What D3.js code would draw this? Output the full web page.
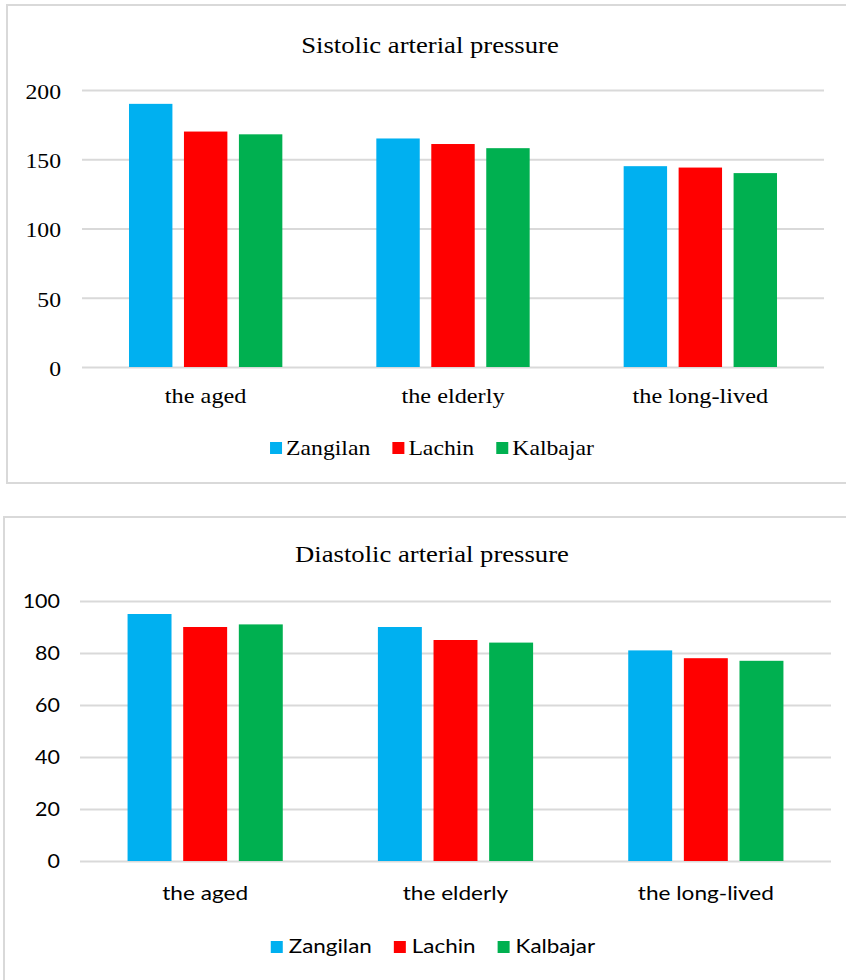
<!DOCTYPE html>
<html>
<head>
<meta charset="utf-8">
<script src="https://cdn.jsdelivr.net/npm/d3@7"></script>
<style>
  html, body { margin: 0; padding: 0; background: #fff; }
  svg { display: block; }
</style>
</head>
<body>
<svg id="chart" width="846" height="980"></svg>
<script>
// Groups on the x axis and the three districts shown as series
const categories = ["the aged", "the elderly", "the long-lived"];
const seriesNames = ["Zangilan", "Lachin", "Kalbajar"];
const seriesColors = ["#00B0F0", "#FF0000", "#00B050"];

// Systolic arterial pressure, mm Hg
const systolicZangilan = [190, 165, 145];
const systolicLachin = [170, 161, 144];
const systolicKalbajar = [168, 158, 140];
const systolicTicks = [0, 50, 100, 150, 200];

// Diastolic arterial pressure, mm Hg
const diastolicZangilan = [95, 90, 81];
const diastolicLachin = [90, 85, 78];
const diastolicKalbajar = [91, 84, 77];
const diastolicTicks = [0, 20, 40, 60, 80, 100];

const SERIF = "'Liberation Serif', 'Times New Roman', serif";
const SANS = "Lato, 'Noto Sans', sans-serif";
const GRID = "#d9d9d9";

const svg = d3.select("#chart");

function drawPanel(cfg) {
  const g = svg.append("g");

  // outer chart frame
  g.append("rect")
    .attr("x", cfg.box.x).attr("y", cfg.box.y)
    .attr("width", cfg.box.w).attr("height", cfg.box.h)
    .attr("fill", "#fff").attr("stroke", GRID).attr("stroke-width", 2);

  const y = d3.scaleLinear()
    .domain([0, d3.max(cfg.ticks)])
    .range([cfg.plot.bottom, cfg.plot.top]);

  const x0 = d3.scaleBand()
    .domain(categories)
    .range([cfg.plot.left, cfg.plot.right])
    .paddingInner(0.38).paddingOuter(0.19);

  const x1 = d3.scaleBand()
    .domain(seriesNames)
    .range([0, x0.bandwidth()])
    .paddingInner(0.21).paddingOuter(0);

  // value axis: gridlines + tick labels
  const plotW = cfg.plot.right - cfg.plot.left;
  const tickPad = cfg.plot.left - cfg.tick.right;
  const yAxis = g.append("g")
    .attr("transform", `translate(${cfg.plot.left},0)`)
    .call(d3.axisLeft(y).tickValues(cfg.ticks).tickSize(-plotW).tickPadding(tickPad).tickFormat(d3.format("d")));
  yAxis.select(".domain").remove();
  yAxis.selectAll(".tick line").attr("stroke", GRID).attr("stroke-width", 2);
  yAxis.selectAll(".tick text")
    .attr("x", -tickPad / cfg.tick.sx)
    .attr("dy", cfg.tick.dy)
    .attr("transform", `scale(${cfg.tick.sx},1)`)
    .attr("fill", "#000")
    .style("font-family", cfg.font)
    .style("font-size", cfg.tick.size + "px");

  // bars
  const series = cfg.values.map((vals, i) => ({ name: seriesNames[i], color: seriesColors[i], vals }));
  g.append("g").selectAll("g")
    .data(series)
    .join("g")
    .attr("fill", d => d.color)
    .selectAll("rect")
    .data(d => d.vals.map((v, j) => ({ cat: categories[j], name: d.name, v })))
    .join("rect")
    .attr("x", d => x0(d.cat) + x1(d.name))
    .attr("width", x1.bandwidth())
    .attr("y", d => y(d.v))
    .attr("height", d => y(0) - y(d.v));

  // category axis labels
  const xAxis = g.append("g")
    .attr("transform", `translate(0,${cfg.cat.baseline})`)
    .call(d3.axisBottom(x0).tickSize(0).tickPadding(0));
  xAxis.select(".domain").remove();
  xAxis.selectAll(".tick text")
    .attr("y", 0).attr("dy", 0)
    .attr("transform", `scale(${cfg.cat.sx},1)`)
    .attr("fill", "#000")
    .style("font-family", cfg.font)
    .style("font-size", cfg.cat.size + "px");

  // title
  g.append("text")
    .attr("transform", `translate(${cfg.title.x},${cfg.title.y}) scale(${cfg.title.sx},1)`)
    .attr("text-anchor", "middle")
    .style("font-family", SERIF)
    .style("font-size", cfg.title.size + "px")
    .attr("fill", "#000")
    .text(cfg.title.text);

  // legend
  const L = cfg.legend;
  const lg = g.append("g");
  const items = lg.selectAll("g").data(series).join("g");
  items.append("rect")
    .attr("width", L.square).attr("height", L.square)
    .attr("y", L.baseline - L.square - L.lift)
    .attr("fill", d => d.color);
  const labels = items.append("text")
    .attr("y", 0)
    .style("font-family", cfg.font)
    .style("font-size", L.size + "px")
    .attr("fill", "#000")
    .text(d => d.name);
  const widths = [];
  labels.each(function () { widths.push(this.getComputedTextLength() * L.sx); });
  const itemW = widths.map(w => L.square + L.gap + w);
  const total = d3.sum(itemW) + L.spacing * (itemW.length - 1);
  let cx = L.center - total / 2;
  items.each(function (d, i) {
    const it = d3.select(this);
    it.select("rect").attr("x", cx);
    it.select("text").attr("transform", `translate(${cx + L.square + L.gap},${L.baseline}) scale(${L.sx},1)`);
    cx += itemW[i] + L.spacing;
  });
}

drawPanel({
  box: { x: 7, y: 5, w: 860, h: 478 },
  plot: { left: 82, right: 824, top: 90, bottom: 367 },
  ticks: systolicTicks,
  values: [systolicZangilan, systolicLachin, systolicKalbajar],
  font: SERIF,
  title: { text: "Sistolic arterial pressure", x: 430, y: 53, size: 22.5, sx: 1.185 },
  tick: { right: 61, size: 21, sx: 1.13, dy: "0.4em" },
  cat: { baseline: 403, size: 21.5, sx: 1.13 },
  legend: { baseline: 455, size: 21, sx: 1.13, center: 432, square: 12, lift: 1, gap: 4, spacing: 22 }
});

drawPanel({
  box: { x: 4, y: 517, w: 860, h: 480 },
  plot: { left: 80, right: 831, top: 601, bottom: 861 },
  ticks: diastolicTicks,
  values: [diastolicZangilan, diastolicLachin, diastolicKalbajar],
  font: SANS,
  title: { text: "Diastolic arterial pressure", x: 432, y: 562, size: 22.5, sx: 1.185 },
  tick: { right: 60, size: 19, sx: 1.13, dy: "0.36em" },
  cat: { baseline: 900, size: 19, sx: 1.19 },
  legend: { baseline: 953, size: 19, sx: 1.18, center: 433, square: 12, lift: 0, gap: 6, spacing: 22 }
});
</script>
</body>
</html>
